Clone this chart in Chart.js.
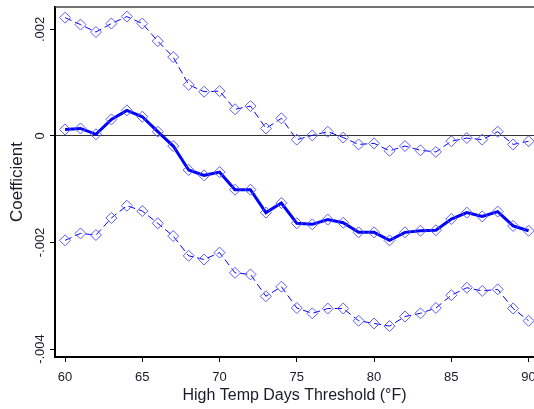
<!DOCTYPE html>
<html>
<head>
<meta charset="utf-8">
<script src="https://cdn.jsdelivr.net/npm/chart.js@4"></script>
<style>
  html, body { margin: 0; padding: 0; background: #fff; }
  #wrap { width: 534px; height: 409px; position: relative; }
</style>
</head>
<body>
<div id="wrap"><canvas id="coefChart"></canvas></div>
<script>
// --- DATA ---
const thresholds = [60, 61, 62, 63, 64, 65, 66, 67, 68, 69, 70, 71, 72, 73, 74, 75,
    76, 77, 78, 79, 80, 81, 82, 83, 84, 85, 86, 87, 88, 89, 90];

const coefEstimate = [0.00012, 0.00014, 0.00003, 0.00031, 0.00048, 0.00036, 0.00008, -0.00019,
    -0.00064, -0.00074, -0.00068, -0.00101, -0.00101, -0.00144, -0.00126, -0.00164,
    -0.00166, -0.00157, -0.00163, -0.00181, -0.00181, -0.00196, -0.00181, -0.00178,
    -0.00177, -0.00156, -0.00144, -0.00151, -0.00142, -0.00169, -0.00178];

const upperBound = [0.00222, 0.00209, 0.00195, 0.00211, 0.00224, 0.00211, 0.00178, 0.00148,
    0.00096, 0.00083, 0.00084, 0.00050, 0.00056, 0.00014, 0.00033, -0.00007,
    0.00001, 0.00008, -0.00003, -0.00016, -0.00014, -0.00028, -0.00019, -0.00027,
    -0.00030, -0.00010, -0.00004, -0.00007, 0.00008, -0.00016, -0.00010];

const lowerBound = [-0.00196, -0.00183, -0.00186, -0.00154, -0.00131, -0.00141, -0.00164, -0.00188,
    -0.00225, -0.00232, -0.00219, -0.00257, -0.00260, -0.00301, -0.00283, -0.00323,
    -0.00333, -0.00324, -0.00324, -0.00347, -0.00352, -0.00357, -0.00339, -0.00333,
    -0.00323, -0.00299, -0.00285, -0.00291, -0.00288, -0.00324, -0.00347];

const xTicks = [60, 65, 70, 75, 80, 85, 90];
const yTicks = [-0.004, -0.002, 0, 0.002];

// --- STYLE ---
const LINE_BLUE = '#0000ff';
const MARKER_BLUE = '#5c5cff';
const TEXT_COLOR = '#1a1a2a';
const FONT = 'Liberation Sans, Arial, sans-serif';

const toPoints = (vals) => thresholds.map((t, i) => ({ x: t, y: vals[i] }));

function fmtCoef(v) {
    if (Math.abs(v) < 1e-9) return '0';
    const s = Math.abs(v).toFixed(3).replace(/^0/, '');
    return v < 0 ? '-' + s : s;
}

// top frame line + vertical y tick labels (Stata style)
const stataFrame = {
    id: 'stataFrame',
    afterDraw(chart) {
        const { ctx, chartArea } = chart;
        const yScale = chart.scales.y;
        ctx.save();
        ctx.strokeStyle = '#444';
        ctx.lineWidth = 1.5;
        ctx.beginPath();
        ctx.moveTo(chartArea.left, chartArea.top);
        ctx.lineTo(chart.width, chartArea.top);
        ctx.stroke();

        ctx.fillStyle = TEXT_COLOR;
        ctx.font = '13px ' + FONT;
        ctx.textAlign = 'center';
        ctx.textBaseline = 'middle';
        yTicks.forEach(v => {
            const py = yScale.getPixelForValue(v);
            ctx.save();
            ctx.translate(40, py);
            ctx.rotate(-Math.PI / 2);
            ctx.fillText(fmtCoef(v), 0, 0);
            ctx.restore();
        });
        ctx.restore();
    }
};

function seriesStyle(dashed) {
    return {
        borderColor: LINE_BLUE,
        borderWidth: dashed ? 1 : 3,
        borderDash: dashed ? [7, 4] : [],
        pointStyle: 'rectRot',
        pointRadius: 5.5,
        pointBorderWidth: 1,
        pointBorderColor: MARKER_BLUE,
        pointBackgroundColor: 'rgba(0,0,0,0)',
        tension: 0,
        fill: false
    };
}

function renderCoefChart() {
    const ctx = document.getElementById('coefChart').getContext('2d');
    new Chart(ctx, {
        type: 'line',
        data: {
            datasets: [
                { label: 'Upper', data: toPoints(upperBound), ...seriesStyle(true) },
                { label: 'Lower', data: toPoints(lowerBound), ...seriesStyle(true) },
                { label: 'Coefficient', data: toPoints(coefEstimate), ...seriesStyle(false) }
            ]
        },
        options: {
            responsive: true,
            maintainAspectRatio: false,
            animation: false,
            layout: { autoPadding: false, padding: { top: 7, right: 0, left: 0, bottom: 0 } },
            plugins: {
                legend: { display: false },
                tooltip: { enabled: false }
            },
            scales: {
                x: {
                    type: 'linear',
                    min: 59.35,
                    max: 90.35,
                    afterBuildTicks: (axis) => { axis.ticks = xTicks.map(v => ({ value: v })); },
                    afterFit: (axis) => {
                        axis.height = 52;
                        axis.paddingLeft = 0;
                        axis.paddingRight = 0;
                    },
                    border: { color: '#000', width: 2 },
                    grid: { drawOnChartArea: false, tickLength: 5, tickColor: '#000' },
                    ticks: { color: TEXT_COLOR, font: { family: FONT, size: 13 }, padding: 8 },
                    title: {
                        display: true,
                        text: 'High Temp Days Threshold (°F)',
                        color: TEXT_COLOR,
                        font: { family: FONT, size: 16 },
                        padding: { top: 2, bottom: 4 }
                    }
                },
                y: {
                    min: -0.00415,
                    max: 0.00242,
                    afterBuildTicks: (axis) => { axis.ticks = yTicks.map(v => ({ value: v })); },
                    afterFit: (axis) => {
                        axis.width = 55;
                        axis.paddingTop = 0;
                        axis.paddingBottom = 0;
                    },
                    border: { color: '#000', width: 2 },
                    grid: {
                        color: (c) => (c.tick && c.tick.value === 0 ? '#333' : 'rgba(0,0,0,0)'),
                        lineWidth: 1,
                        tickColor: '#000',
                        tickLength: 5
                    },
                    ticks: { display: false },
                    title: {
                        display: true,
                        text: 'Coefficient',
                        color: TEXT_COLOR,
                        font: { family: FONT, size: 17 },
                        padding: { top: 7, bottom: 2 }
                    }
                }
            }
        },
        plugins: [stataFrame]
    });
}

window.onload = function () {
    renderCoefChart();
};
</script>
</body>
</html>
